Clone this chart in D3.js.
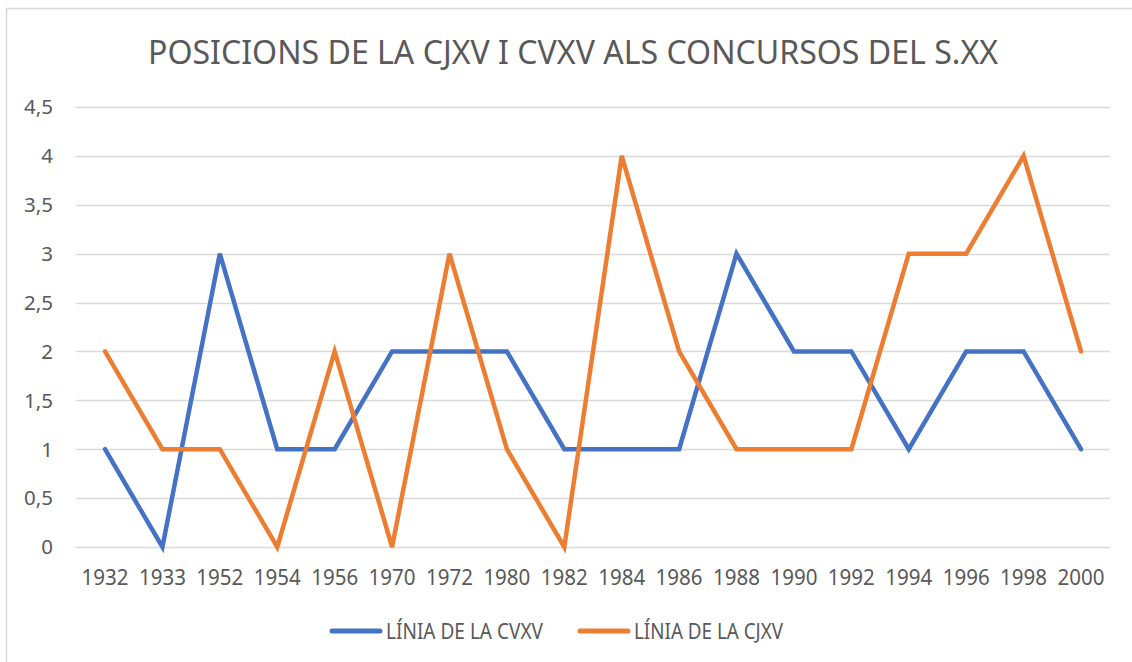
<!DOCTYPE html>
<html>
<head>
<meta charset="utf-8">
<script src="https://cdn.jsdelivr.net/npm/d3@7"></script>
<style>
  body { margin: 0; background: #fff; }
  svg { display: block; font-family: "Noto Sans", "Open Sans", sans-serif; }
</style>
</head>
<body>
<svg id="chart" width="1132" height="662"></svg>
<script>
var years = ["1932","1933","1952","1954","1956","1970","1972","1980","1982","1984","1986","1988","1990","1992","1994","1996","1998","2000"];
var cvxv = [1,0,3,1,1,2,2,2,1,1,1,3,2,2,1,2,2,1];
var cjxv = [2,1,1,0,2,0,3,1,0,4,2,1,1,1,3,3,4,2];
var yTicks = [0,0.5,1,1.5,2,2.5,3,3.5,4,4.5];
var seriesNames = ["LÍNIA DE LA CVXV", "LÍNIA DE LA CJXV"];
var colors = ["#4472C4", "#ED7D31"];

var svg = d3.select("#chart");
var textColor = "#595959";

// chart border
svg.append("rect")
    .attr("x", 6.5).attr("y", 8.5)
    .attr("width", 1140).attr("height", 670)
    .attr("fill", "none")
    .attr("stroke", "#D9D9D9")
    .attr("stroke-width", 1.5);

svg.append("text")
    .attr("x", 573).attr("y", 64)
    .attr("text-anchor", "middle")
    .attr("font-size", 33)
    .attr("fill", textColor)
    .attr("textLength", 850)
    .attr("lengthAdjust", "spacingAndGlyphs")
    .text("POSICIONS DE LA CJXV I CVXV ALS CONCURSOS DEL S.XX");

var x = d3.scalePoint()
    .domain(years)
    .range([105, 1081]);

var y = d3.scaleLinear()
    .domain([0, 4.5])
    .range([547, 107]);

// gridlines
svg.append("g")
  .selectAll("line")
  .data(yTicks)
  .enter().append("line")
    .attr("x1", 76).attr("x2", 1110)
    .attr("y1", function(d) { return Math.round(y(d)) + 0.5; })
    .attr("y2", function(d) { return Math.round(y(d)) + 0.5; })
    .attr("stroke", "#D9D9D9")
    .attr("stroke-width", 1.5);

// y labels
svg.append("g")
  .selectAll("text")
  .data(yTicks)
  .enter().append("text")
    .attr("x", 53)
    .attr("y", function(d) { return y(d); })
    .attr("dy", "0.36em")
    .attr("text-anchor", "end")
    .attr("font-size", 20.5)
    .attr("fill", textColor)
    .text(function(d) { return String(d).replace(".", ","); });

// x labels
svg.append("g")
  .selectAll("text")
  .data(years)
  .enter().append("text")
    .attr("x", function(d) { return x(d); })
    .attr("y", 585)
    .attr("text-anchor", "middle")
    .attr("font-size", 21)
    .attr("fill", textColor)
    .attr("textLength", 47)
    .attr("lengthAdjust", "spacingAndGlyphs")
    .text(function(d) { return d; });

var line = d3.line()
    .x(function(d, i) { return x(years[i]); })
    .y(function(d) { return y(d); });

[cvxv, cjxv].forEach(function(vals, k) {
  svg.append("path")
      .datum(vals)
      .attr("fill", "none")
      .attr("stroke", colors[k])
      .attr("stroke-width", 4.5)
      .attr("stroke-linejoin", "miter")
      .attr("stroke-linecap", "round")
      .attr("d", line);
});

// legend
var legendX = [330, 578];
seriesNames.forEach(function(name, k) {
  var g = svg.append("g").attr("transform", "translate(" + legendX[k] + ",631)");
  g.append("line")
      .attr("x1", 2).attr("x2", 50)
      .attr("stroke", colors[k])
      .attr("stroke-width", 5)
      .attr("stroke-linecap", "round");
  g.append("text")
      .attr("x", 56)
      .attr("dy", "0.36em")
      .attr("font-size", 21)
      .attr("fill", textColor)
      .attr("textLength", k === 0 ? 157 : 149)
      .attr("lengthAdjust", "spacingAndGlyphs")
      .text(name);
});
</script>
</body>
</html>
